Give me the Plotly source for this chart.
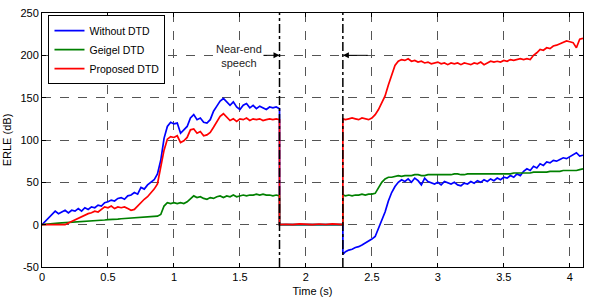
import plotly.graph_objects as go

# ---- time grids (s) ----
t_a = [0.000, 0.025, 0.050, 0.075, 0.100, 0.125, 0.150, 0.175, 0.200, 0.225,
       0.250, 0.275, 0.300, 0.325, 0.350, 0.375, 0.400, 0.425, 0.450, 0.475,
       0.500, 0.525, 0.550, 0.575, 0.600, 0.625, 0.650, 0.675, 0.700, 0.725,
       0.750, 0.775, 0.800, 0.825, 0.850, 0.875, 0.900, 0.925, 0.950, 0.975,
       1.000, 1.025, 1.050, 1.075, 1.100, 1.125, 1.150, 1.175, 1.200, 1.225,
       1.250, 1.275, 1.300, 1.325, 1.350, 1.375, 1.400, 1.425, 1.450, 1.475,
       1.500, 1.525, 1.550, 1.575, 1.600, 1.625, 1.650, 1.675, 1.700, 1.725,
       1.750, 1.775, 1.800]
t_b = [1.800, 1.850, 1.900, 1.950, 2.000, 2.050, 2.100, 2.150, 2.200, 2.250, 2.280]
t_c = [2.280, 2.300, 2.325, 2.350, 2.375, 2.400, 2.425, 2.450, 2.475, 2.500,
       2.525, 2.550, 2.575, 2.600, 2.625, 2.650, 2.675, 2.700, 2.725, 2.750,
       2.775, 2.800, 2.825, 2.850, 2.875, 2.900, 2.925, 2.950, 2.975, 3.000,
       3.025, 3.050, 3.075, 3.100, 3.125, 3.150, 3.175, 3.200, 3.225, 3.250,
       3.275, 3.300, 3.325, 3.350, 3.375, 3.400, 3.425, 3.450, 3.475, 3.500,
       3.525, 3.550, 3.575, 3.600, 3.625, 3.650, 3.675, 3.700, 3.725, 3.750,
       3.775, 3.800, 3.825, 3.850, 3.875, 3.900, 3.925, 3.950, 3.975, 4.000,
       4.025, 4.050, 4.075, 4.100]

# ---- ERLE (dB) values ----
without_a = [0, 4, 9, 12, 16, 13, 15, 17, 14, 17,
             16, 19, 16, 20, 18, 21, 20, 23, 22, 26,
             27, 29, 28, 31, 32, 30, 34, 35, 38, 36,
             44, 42, 47, 50, 53, 60, 76, 102, 116, 121,
             119, 120, 108, 112, 116, 126, 130, 124, 126, 121,
             120, 124, 134, 140, 146, 149, 145, 141, 145, 139,
             136, 141, 143, 138, 141, 137, 140, 138, 136, 139,
             138, 139, 137]
geigel_a = [0, 0.5, 1, 1.2, 1.5, 1.8, 2, 2.2, 2.5, 2.8,
            3, 3.2, 3.5, 3.8, 4, 4.2, 4.5, 4.8, 5, 5.5,
            6, 6, 6.2, 6.5, 7, 7.2, 7.5, 7.8, 8, 8.2,
            8.5, 8.8, 9, 9.2, 9.5, 10, 12, 22, 26, 25,
            26, 25, 26, 25, 27, 31, 34, 32, 33, 31,
            30, 32, 31, 33, 34, 32, 34, 33, 35, 33,
            34, 35, 34, 35, 35, 36, 35, 36, 35, 35,
            34, 35, 34]
proposed_a = [0, 0, 0, 0, 0, 0, 0, 0, 2, 4,
              6, 8, 10, 11, 13, 14, 16, 15, 18, 21,
              20, 22, 19, 21, 20, 21, 19, 17, 18, 22,
              27, 30, 33, 37, 42, 48, 66, 88, 101, 104,
              103, 105, 97, 99, 103, 112, 113, 108, 110, 105,
              106, 109, 115, 122, 128, 131, 127, 123, 125, 122,
              125, 124, 126, 123, 125, 124, 125, 123, 124, 125,
              124, 125, 124]

without_b = [0, 0, 0, 0, 0, 0, 0, 0, 0, 0, 0]
geigel_b = [0, 0, 0, 0, 0, 0, 0, 0, 0, 0, 0]
proposed_b = [0, 0.5, 0, 1, 0.3, 0, 0.8, 0.2, 1, 0.4, 0]

without_c = [-35, -32, -30, -29, -27, -26, -24, -22, -20, -17,
             -14, -5, 5, 15, 28, 38, 45, 50, 53, 51,
             54, 50, 55, 52, 47, 55, 51, 49, 48, 50,
             47, 51, 49, 48, 50, 47, 46, 49, 48, 51,
             49, 52, 50, 53, 51, 54, 52, 55, 53, 56,
             55, 58, 56, 60, 58, 63, 66, 64, 69, 67,
             72, 70, 74, 73, 76, 75, 77, 79, 78, 80,
             83, 85, 81, 82]
geigel_c = [35, 34, 35, 34, 35, 35, 36, 35, 36, 36,
            37, 43, 50, 54, 56, 56, 57, 58, 57, 58,
            58, 58, 59, 59, 58, 58, 59, 59, 59, 59,
            59, 59, 59, 59, 60, 60, 59, 59, 60, 60,
            60, 60, 60, 60, 60, 60, 60, 60, 60, 60,
            60, 60, 61, 61, 61, 61, 61, 61, 62, 62,
            62, 62, 62, 63, 63, 63, 63, 64, 64, 64,
            64, 64, 65, 66]
proposed_c = [125, 124, 125, 126, 125, 124, 126, 125, 124, 126,
              130, 136, 145, 152, 165, 178, 188, 193, 195, 194,
              196, 193, 194, 192, 193, 191, 192, 190, 191, 192,
              190, 191, 189, 191, 190, 191, 189, 191, 190, 189,
              191, 190, 192, 189, 191, 193, 192, 193, 192, 194,
              193, 195, 194, 195, 196, 195, 196, 195, 200, 203,
              207, 206, 209, 208, 211, 212, 214, 216, 217, 216,
              215, 209, 219, 220]

x_ticks = [0, 0.5, 1, 1.5, 2, 2.5, 3, 3.5, 4]
x_tick_text = ["0", "0.5", "1", "1.5", "2", "2.5", "3", "3.5", "4"]
y_ticks = [-50, 0, 50, 100, 150, 200, 250]
y_tick_text = ["-50", "0", "50", "100", "150", "200", "250"]
near_end_start = 1.8
near_end_stop = 2.28

t_all = t_a + t_b + t_c
series = [
    ("Without DTD", without_a + without_b + without_c, "#0000ff"),
    ("Geigel DTD", geigel_a + geigel_b + geigel_c, "#008000"),
    ("Proposed DTD", proposed_a + proposed_b + proposed_c, "#ff0000"),
]

FONT = "Liberation Sans, Arial, sans-serif"
fig = go.Figure()
for name, vals, col in series:
    fig.add_trace(go.Scatter(x=t_all, y=vals, mode="lines", name=name,
                             line=dict(color=col, width=1.7)))

for xv in (near_end_start, near_end_stop):
    fig.add_shape(type="line", xref="x", yref="paper", x0=xv, x1=xv, y0=0, y1=1,
                  line=dict(color="black", width=1.5, dash="dashdot"))

fig.add_annotation(x=near_end_start, y=200, ax=1.615, ay=200, xref="x", yref="y",
                   axref="x", ayref="y", text="", showarrow=True, arrowhead=2,
                   arrowsize=1.2, arrowwidth=1, arrowcolor="black")
fig.add_annotation(x=near_end_stop, y=200, ax=2.48, ay=200, xref="x", yref="y",
                   axref="x", ayref="y", text="", showarrow=True, arrowhead=2,
                   arrowsize=1.2, arrowwidth=1, arrowcolor="black")
fig.add_annotation(x=1.49, y=199, xref="x", yref="y", text="Near-end<br>speech",
                   showarrow=False, bgcolor="white",
                   font=dict(family=FONT, size=11, color="#222"))

axis_common = dict(showline=True, linecolor="black", linewidth=1, mirror="allticks",
                   ticks="inside", ticklen=4, tickcolor="black", showgrid=True,
                   gridcolor="#555", griddash="dash", gridwidth=1, zeroline=False,
                   tickfont=dict(family=FONT, size=11, color="black"))

fig.update_xaxes(range=[0, 4.1], tickvals=x_ticks, ticktext=x_tick_text,
                 title=dict(text="Time (s)", standoff=5,
                            font=dict(family=FONT, size=11, color="black")),
                 **axis_common)
fig.update_yaxes(range=[-50, 250], tickvals=y_ticks, ticktext=y_tick_text,
                 title=dict(text="ERLE (dB)", standoff=6,
                            font=dict(family=FONT, size=11, color="black")),
                 **axis_common)

fig.update_layout(
    width=591, height=303,
    margin=dict(l=41, r=7, t=9, b=33),
    paper_bgcolor="white", plot_bgcolor="white",
    font=dict(family=FONT, size=11, color="black"),
    legend=dict(x=0.012, y=0.992, xanchor="left", yanchor="top",
                bgcolor="white", bordercolor="black", borderwidth=1,
                font=dict(family=FONT, size=10.5, color="black"),
                tracegroupgap=0, itemwidth=30),
    showlegend=True,
)

fig.write_html("out.html")
